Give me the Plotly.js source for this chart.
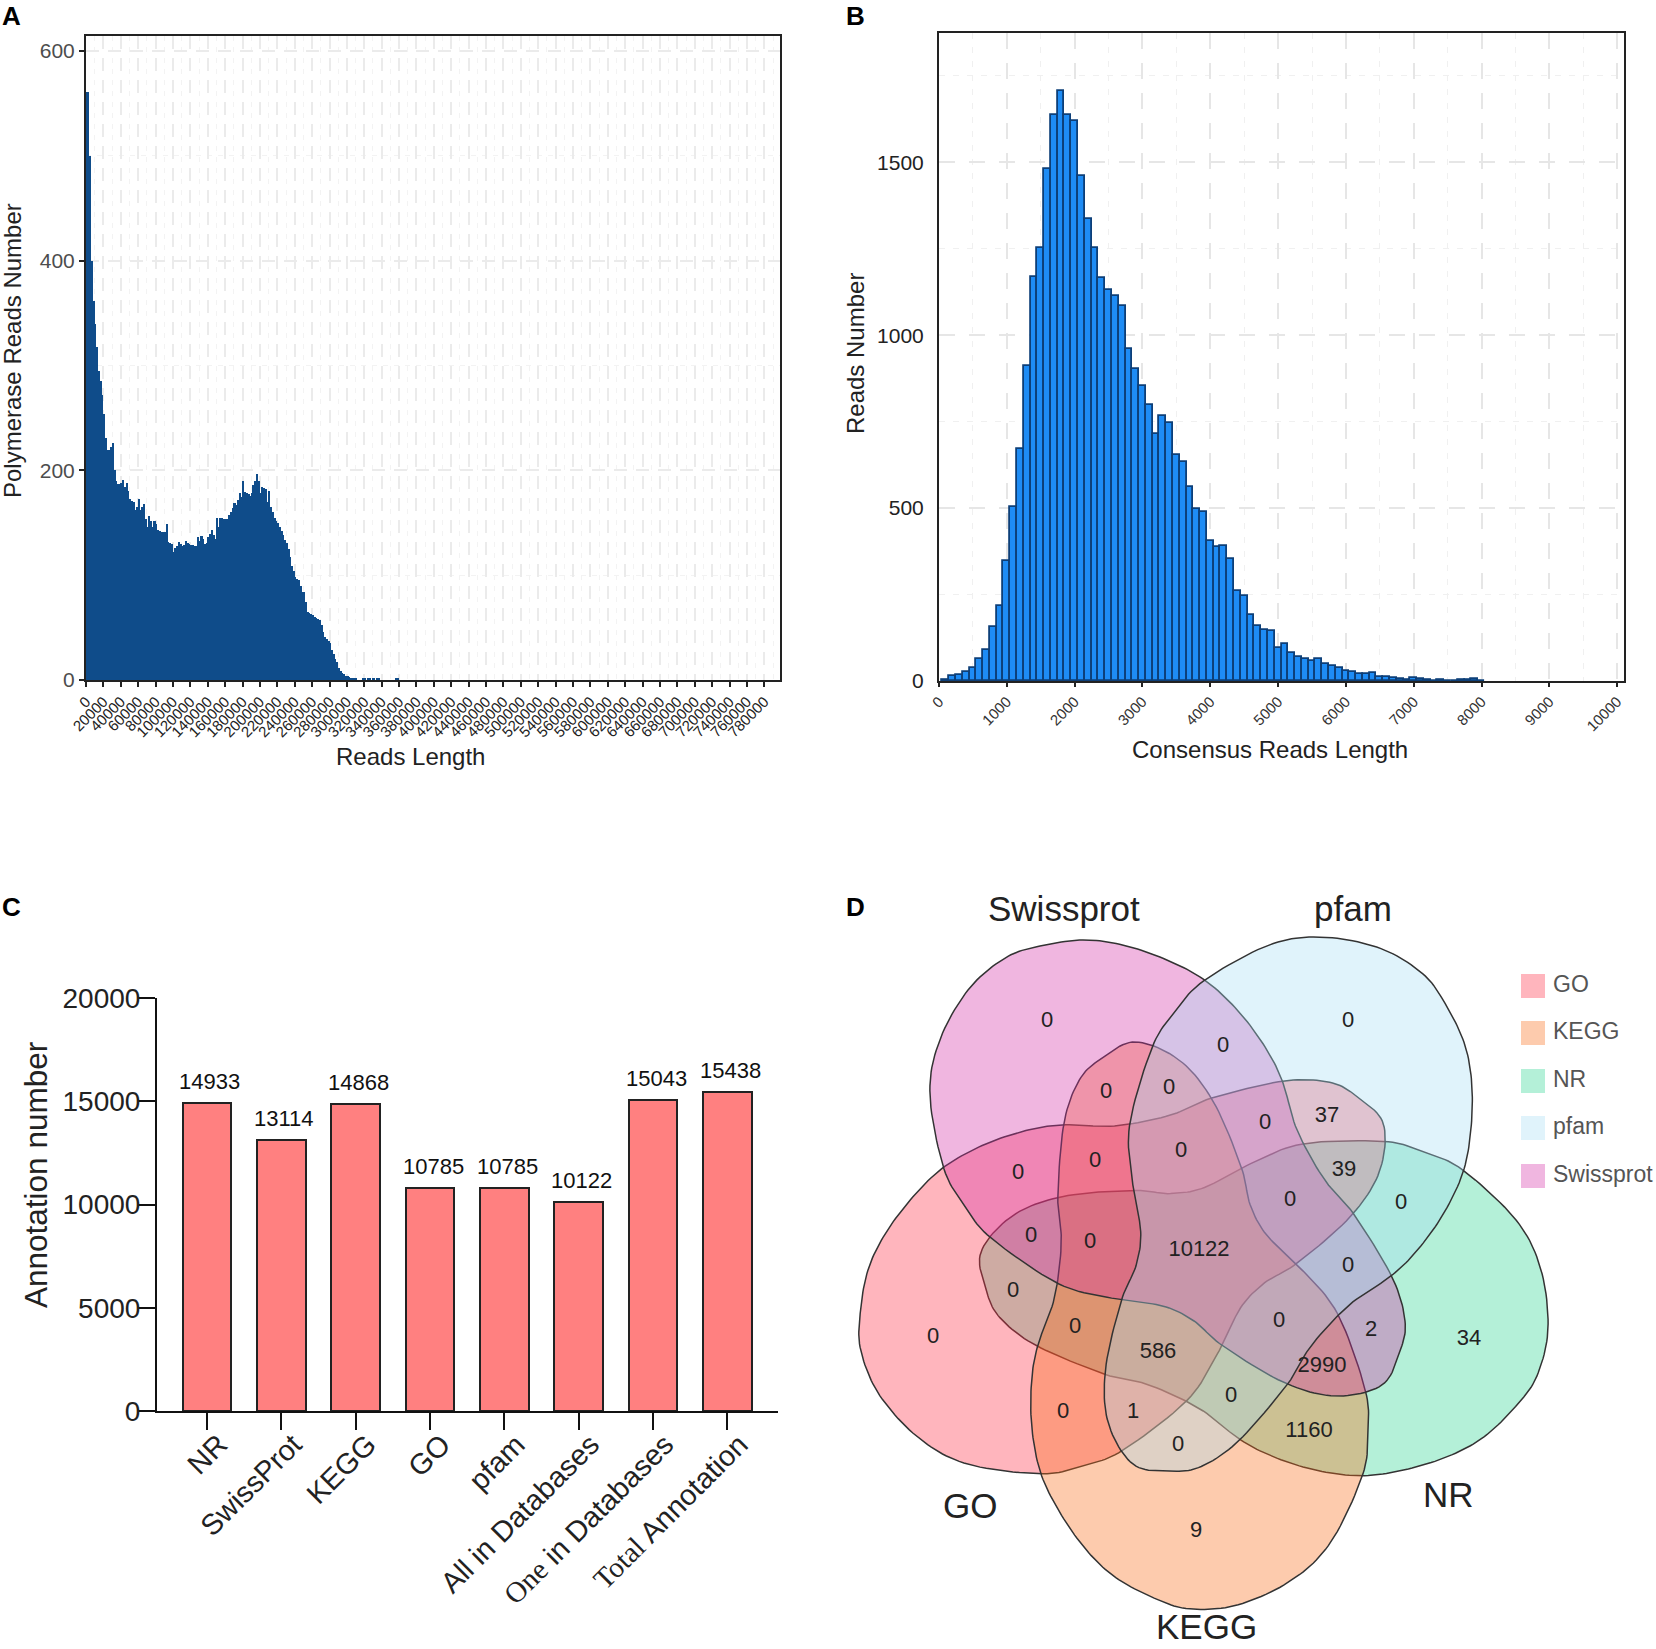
<!DOCTYPE html>
<html>
<head>
<meta charset="utf-8">
<script src="https://cdn.plot.ly/plotly-3.0.1.min.js"></script>
<style>body{margin:0;background:#fff}</style>
</head>
<body>
<div id="graph"></div>
<script>
// panel A: polymerase reads, 2000 wide bins starting at 0
var polymeraseReads = [561,561,500,400,362,340,318,295,285,272,254,231,219,219,222,226,200,190,187,187,
  188,191,184,188,180,173,171,170,162,165,173,162,165,168,154,146,156,152,146,152,
  149,143,142,141,141,141,149,132,131,130,122,126,128,132,130,128,129,133,131,130,
  129,129,128,128,136,133,137,135,130,131,136,139,143,138,135,155,146,155,155,154,
  154,154,157,160,164,169,167,172,178,175,190,179,178,177,176,178,186,190,197,190,
  178,184,183,182,170,180,165,160,155,152,150,146,142,138,134,131,125,117,109,104,
  98,96,95,90,84,84,74,65,64,63,62,60,59,58,57,52,46,41,39,37,
  35,29,25,20,17,11,9,7,6,4,4,3,2,1,1,1,0,0,0,1,
  1,0,1,1,0,1,0,1,1,0,0,0,0,0,0,0,0,0,1,1];

// panel B: consensus reads, one bar per 100 starting at 100
var consensusReads = [3,14,17,26,39,63,91,155,216,348,503,670,912,1168,1252,1480,1636,1705,1636,1619,
  1460,1337,1251,1165,1132,1112,1084,959,903,854,798,715,765,746,654,634,562,498,490,404,
  387,390,352,260,247,191,158,148,144,96,106,81,69,64,58,64,49,44,37,29,
  26,20,20,24,12,13,10,7,3,9,5,3,1,3,1,1,2,3,6,1];

// panel C
var databases = ['NR','SwissProt','KEGG','GO','pfam','All in Databases','One in Databases','Total Annotation'];
var databaseLabels = ['NR','SwissProt','KEGG','GO','pfam','All in Databases',
  '<span style="font-family:Liberation Serif">One</span> in Databases',
  '<span style="font-family:Liberation Serif">Total</span> Annotation'];
var annotationCounts = [14933,13114,14868,10785,10785,10122,15043,15438];

// panel D
var vennSets = ['GO','KEGG','NR','pfam','Swissprot'];
var vennCounts = [0,0,0,0,0,37,0,0,0,0,39,0,0,10122,0,0,0,0,0,2,34,0,0,586,2990,0,0,1,0,1160,9];

// --- page geometry (everything below is in page pixels) ---
var W = 1656, H = 1649;
function fx(p) { return p / W; }
function fy(p) { return 1 - p / H; }

var vennColors = ['255,44,66','249,106,21','41,212,144','166,221,244','212,46,166'];
var vennLabelX = [1047,1348,1223,1106,1169,1327,1265,1181,1095,1018,1344,1401,1290,1199,1031,1090,1348,1013,1279,1371,1469,1075,933,1158,1322,1231,1063,1133,1178,1309,1196];
var vennLabelY = [1021,1021,1046,1092,1088,1116,1123,1151,1161,1173,1170,1203,1200,1250,1236,1242,1266,1291,1321,1330,1339,1327,1337,1352,1366,1396,1412,1412,1445,1431,1531];

// one petal (the Swissprot one), the other four are the same petal turned around the centre
var petalX = [1040,1083,1123,1167,1206,1240,1267,1283,1297,1324,1353,1392,1405,1400,1382,1335,1283,1223,1194,1163,1116,1059,991,965,944,930,939,968,1005];
var petalY = [946,940,945,960,981,1013,1050,1083,1130,1179,1213,1277,1321,1351,1385,1396,1382,1346,1321,1306,1299,1284,1238,1206,1169,1096,1042,990,958];
var vennCx = 1203, vennCy = 1253.5;

function petalOutline(turns) {
  var n = petalX.length, xs = [], ys = [];
  var a = turns * 72 * Math.PI / 180;
  for (var i = 0; i < n; i++) {
    var p0 = (i + n - 1) % n, p1 = i, p2 = (i + 1) % n, p3 = (i + 2) % n;
    for (var s = 0; s < 12; s++) {
      var t = s / 12, t2 = t * t, t3 = t2 * t;
      var x = 0.5 * (2 * petalX[p1] + (petalX[p2] - petalX[p0]) * t + (2 * petalX[p0] - 5 * petalX[p1] + 4 * petalX[p2] - petalX[p3]) * t2 + (3 * petalX[p1] - petalX[p0] - 3 * petalX[p2] + petalX[p3]) * t3);
      var y = 0.5 * (2 * petalY[p1] + (petalY[p2] - petalY[p0]) * t + (2 * petalY[p0] - 5 * petalY[p1] + 4 * petalY[p2] - petalY[p3]) * t2 + (3 * petalY[p1] - petalY[p0] - 3 * petalY[p2] + petalY[p3]) * t3);
      var dx = x - vennCx, dy = y - vennCy;
      xs.push(vennCx + dx * Math.cos(a) - dy * Math.sin(a));
      ys.push(vennCy + dx * Math.sin(a) + dy * Math.cos(a));
    }
  }
  xs.push(xs[0]);
  ys.push(ys[0]);
  return {x: xs, y: ys};
}

var data = [];
data.push({
  type: 'bar', x0: 1000, dx: 2000, width: 2000, y: polymeraseReads,
  marker: {color: '#0f4c8a', line: {width: 0}}, xaxis: 'x', yaxis: 'y', hoverinfo: 'skip'
});
data.push({
  type: 'bar', x0: 100, dx: 100, width: 100, y: consensusReads,
  marker: {color: '#1e8cf5', line: {color: '#0d3f78', width: 1.8}}, xaxis: 'x2', yaxis: 'y2', hoverinfo: 'skip'
});
data.push({
  type: 'bar', x: databases, y: annotationCounts, width: 0.655,
  marker: {color: '#ff8080', line: {color: '#222', width: 2}}, xaxis: 'x3', yaxis: 'y3', hoverinfo: 'skip'
});

// clockwise steps from the Swissprot petal; the stacking order sets the overlap colours
var vennTurns = [4, 3, 2, 1, 0];
var vennOrder = [2, 0, 1, 4, 3];
vennOrder.forEach(function (v) {
  var o = petalOutline(vennTurns[v]);
  data.push({
    type: 'scatter', mode: 'lines', x: o.x, y: o.y, fill: 'toself',
    fillcolor: 'rgba(' + vennColors[v] + ',0.35)', line: {color: '#333', width: 1.5},
    name: vennSets[v], xaxis: 'x4', yaxis: 'y4', hoverinfo: 'skip'
  });
});
data.push({
  type: 'scatter', mode: 'text', x: vennLabelX, y: vennLabelY, text: vennCounts.map(String),
  textfont: {family: 'Liberation Sans', size: 22, color: '#222'}, xaxis: 'x4', yaxis: 'y4', hoverinfo: 'skip'
});
var legendY = [986,1033,1081,1128,1176];
data.push({
  type: 'scatter', mode: 'markers', x: legendY.map(function () { return 1533; }), y: legendY,
  marker: {symbol: 'square', size: 24, color: vennColors.map(function (c) { return 'rgba(' + c + ',0.35)'; })},
  xaxis: 'x4', yaxis: 'y4', hoverinfo: 'skip'
});
data.push({
  type: 'scatter', mode: 'text', x: legendY.map(function () { return 1553; }), y: legendY,
  text: vennSets, textposition: 'middle right',
  textfont: {family: 'Liberation Sans', size: 23, color: '#555'},
  xaxis: 'x4', yaxis: 'y4', hoverinfo: 'skip'
});

function titleNote(text, x, y, size, angle) {
  return {
    text: text, xref: 'paper', yref: 'paper', x: fx(x), y: fy(y), showarrow: false,
    xanchor: 'center', yanchor: 'middle', textangle: angle || 0,
    font: {family: 'Liberation Sans', size: size, color: '#222'}
  };
}
function panelLetter(text, x, y) {
  return {
    text: '<b>' + text + '</b>', xref: 'paper', yref: 'paper', x: fx(x), y: fy(y), showarrow: false,
    xanchor: 'left', yanchor: 'middle',
    font: {family: 'Liberation Sans', size: 26, color: '#000'}
  };
}

var annotations = [
  panelLetter('A', 0, 16), panelLetter('B', 844, 16), panelLetter('C', 0, 907), panelLetter('D', 844, 907),
  titleNote('Reads Length', 410, 757, 24),
  titleNote('Polymerase Reads Number', 12, 351, 24, -90),
  titleNote('Consensus Reads Length', 1270, 750, 24),
  titleNote('Reads Number', 855, 353, 24, -90),
  titleNote('Annotation number', 36, 1175, 31.5, -90),
  titleNote('Swissprot', 1064, 908, 35), titleNote('pfam', 1353, 908, 35),
  titleNote('GO', 970, 1505, 35), titleNote('NR', 1448, 1494, 35), titleNote('KEGG', 1206, 1626, 35)
];
for (var c = 0; c < databases.length; c++) {
  annotations.push({
    text: String(annotationCounts[c]), xref: 'x3', yref: 'y3', x: databases[c], y: annotationCounts[c],
    yanchor: 'bottom', xshift: 3, yshift: 7, showarrow: false,
    font: {family: 'Liberation Sans', size: 22, color: '#111'}
  });
}

var boxLine = {showline: true, mirror: true, linecolor: '#222', linewidth: 2, zeroline: false};

var layout = {
  width: W, height: H,
  margin: {l: 0, r: 0, t: 0, b: 0},
  paper_bgcolor: '#fff', plot_bgcolor: 'rgba(0,0,0,0)',
  showlegend: false, bargap: 0,
  font: {family: 'Liberation Sans'},
  annotations: annotations,
  xaxis: Object.assign({}, boxLine, {
    domain: [fx(86), fx(780)], range: [0, 798000], anchor: 'y',
    tick0: 0, dtick: 20000, tickangle: -45, tickformat: 'd',
    ticks: 'outside', ticklen: 5, tickwidth: 2, tickcolor: '#222',
    tickfont: {size: 15, color: '#222'},
    showgrid: true, gridcolor: '#ebebeb', gridwidth: 2, griddash: '13px,9px',
    minor: {dtick: 10000, showgrid: true, gridcolor: '#f3f3f3', gridwidth: 1, griddash: '5px,6px'}
  }),
  yaxis: Object.assign({}, boxLine, {
    domain: [fy(680), fy(36)], range: [0, 614.4], anchor: 'x',
    tick0: 0, dtick: 200, ticks: 'outside', ticklen: 5, tickwidth: 2, tickcolor: '#222',
    tickfont: {size: 21, color: '#4d4d4d'},
    showgrid: true, gridcolor: '#ebebeb', gridwidth: 2, griddash: '13px,9px',
    minor: {dtick: 100, showgrid: true, gridcolor: '#f3f3f3', gridwidth: 1, griddash: '5px,6px'}
  }),
  xaxis2: Object.assign({}, boxLine, {
    domain: [fx(939), fx(1624)], range: [0, 10100], anchor: 'y2',
    tick0: 0, dtick: 1000, tickangle: -45, tickformat: 'd',
    ticks: 'outside', ticklen: 4, tickwidth: 2, tickcolor: '#222',
    tickfont: {size: 15, color: '#333'},
    showgrid: true, gridcolor: '#e6e6e6', gridwidth: 2, griddash: '16px,14px',
    minor: {dtick: 500, showgrid: true, gridcolor: '#f0f0f0', gridwidth: 1, griddash: '6px,8px'}
  }),
  yaxis2: Object.assign({}, boxLine, {
    domain: [fy(681), fy(33)], range: [0, 1874], anchor: 'x2',
    tick0: 0, dtick: 500, ticks: '', ticklabelstandoff: 9,
    tickfont: {size: 21, color: '#222'},
    showgrid: true, gridcolor: '#e6e6e6', gridwidth: 2, griddash: '16px,14px',
    minor: {dtick: 250, showgrid: true, gridcolor: '#f0f0f0', gridwidth: 1, griddash: '6px,8px'}
  }),
  xaxis3: {
    domain: [fx(157), fx(778)], range: [-0.672, 7.68], anchor: 'y3', type: 'category',
    tickmode: 'array', tickvals: databases, ticktext: databaseLabels, tickangle: -45,
    showline: true, linecolor: '#111', linewidth: 2, showgrid: false, zeroline: false,
    ticks: 'outside', ticklen: 17, tickwidth: 2, tickcolor: '#111',
    ticklabelstandoff: -14, ticklabelshift: 12,
    tickfont: {size: 29, color: '#222'}
  },
  yaxis3: {
    domain: [fy(1411), fy(998)], range: [0, 20000], anchor: 'x3',
    tick0: 0, dtick: 5000, tickformat: 'd', showline: true, linecolor: '#111', linewidth: 2, showgrid: false, zeroline: false,
    ticks: 'outside', ticklen: 17, tickwidth: 2, tickcolor: '#111', ticklabelstandoff: -8,
    tickfont: {size: 28, color: '#222'}
  },
  xaxis4: {domain: [fx(840), 1], range: [840, W], anchor: 'y4', visible: false, fixedrange: true},
  yaxis4: {domain: [0, fy(880)], range: [H, 880], anchor: 'x4', visible: false, fixedrange: true}
};

var config = {displayModeBar: false};

Plotly.newPlot('graph', data, layout, config);
</script>
</body>
</html>
